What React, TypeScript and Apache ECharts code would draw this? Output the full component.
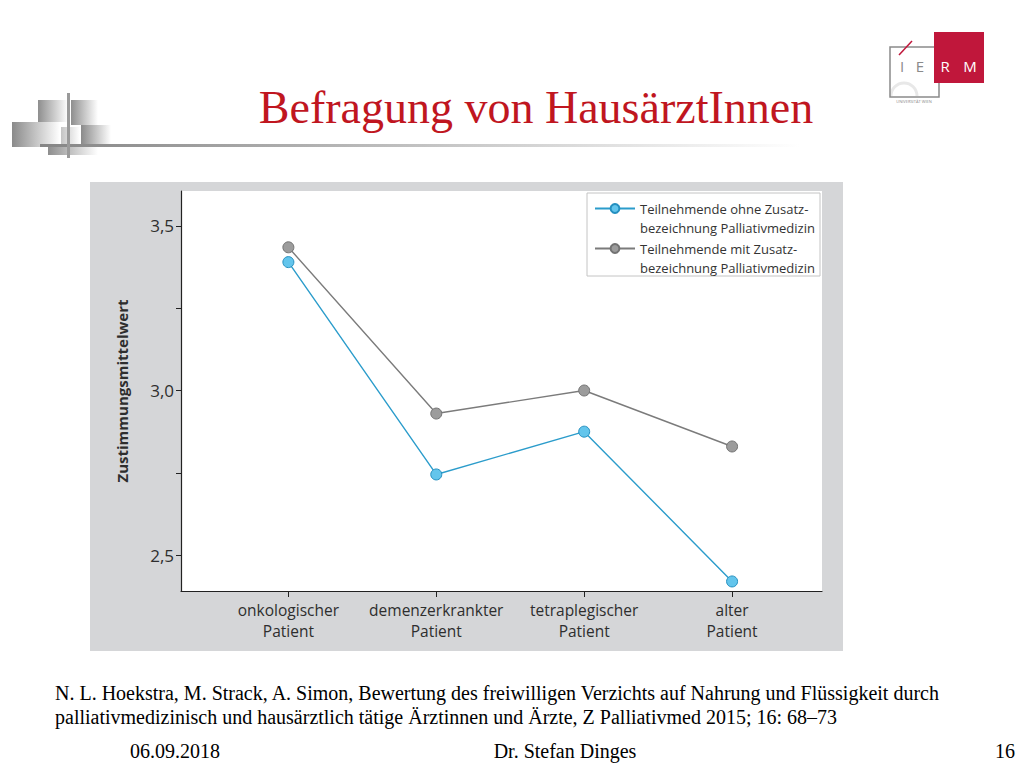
import React, { useEffect, useRef } from 'react';
import * as echarts from 'echarts';

// ---- data ----
const categories = [
  'onkologischer\nPatient',
  'demenzerkrankter\nPatient',
  'tetraplegischer\nPatient',
  'alter\nPatient',
];
const categoryPositions = [0, 1, 2, 3];
const seriesNames = [
  'Teilnehmende ohne Zusatz-\nbezeichnung Palliativmedizin',
  'Teilnehmende mit Zusatz-\nbezeichnung Palliativmedizin',
];
const ohneValues = [3.39, 2.745, 2.875, 2.42];
const mitValues = [3.435, 2.93, 3.0, 2.83];
const yTickValues = [2.5, 2.75, 3.0, 3.25, 3.5];
const yLabelValues = [2.5, 3.0, 3.5];

const titleText = 'Befragung von HausärztInnen';
const citationLines = [
  'N. L. Hoekstra, M. Strack, A. Simon, Bewertung des freiwilligen Verzichts auf Nahrung und Flüssigkeit durch',
  'palliativmedizinisch und hausärztlich tätige Ärztinnen und Ärzte, Z Palliativmed 2015; 16: 68–73',
];
const footerDate = '06.09.2018';
const footerAuthor = 'Dr. Stefan Dinges';
const footerPage = '16';

const SANS = "'Open Sans', 'Noto Sans', sans-serif";
const SERIF = "'Liberation Serif', 'DejaVu Serif', serif";

const grad = (from: string, to: string) => ({
  type: 'linear',
  x: 0,
  y: 0,
  x2: 1,
  y2: 0,
  colorStops: [
    { offset: 0, color: from },
    { offset: 1, color: to },
  ],
});

export default function App() {
  const ref = useRef<HTMLDivElement>(null);

  useEffect(() => {
    if (!ref.current) return;
    const chart = echarts.init(ref.current, undefined, { renderer: 'svg' });

    const decoRects = [
      { x: 38, y: 100, w: 30, h: 22, c: '#8e8e8e' },
      { x: 71, y: 100, w: 27, h: 25, c: '#8e8e8e' },
      { x: 12, y: 122, w: 48, h: 25, c: '#8a8a8a' },
      { x: 61, y: 127, w: 19, h: 18, c: '#c4c4c4' },
      { x: 81, y: 125, w: 30, h: 22, c: '#8a8a8a' },
      { x: 48, y: 147, w: 50, h: 8, c: '#8e8e8e' },
    ];

    const graphic: any[] = [
      // chart panel
      { type: 'rect', z: -100, shape: { x: 90, y: 182, width: 753, height: 469 }, style: { fill: '#d5d6d8' } },
      { type: 'rect', z: -99, shape: { x: 181, y: 191, width: 641, height: 400 }, style: { fill: '#ffffff' } },
      // legend box
      { type: 'rect', z: -98, shape: { x: 587, y: 193, width: 233, height: 83 }, style: { fill: '#ffffff', stroke: '#c4c4c4', lineWidth: 1 } },
      // decoration
      ...decoRects.map((r) => ({
        type: 'rect',
        shape: { x: r.x, y: r.y, width: r.w, height: r.h },
        style: { fill: grad(r.c, '#ffffff') },
      })),
      { type: 'rect', shape: { x: 40, y: 144, width: 760, height: 3 }, style: { fill: grad('#858585', '#ffffff') } },
      { type: 'rect', shape: { x: 67, y: 93, width: 3, height: 65 }, style: { fill: '#9a9a9a' } },
      // title
      {
        type: 'text',
        x: 536,
        y: 107,
        style: {
          text: titleText,
          font: `46px ${SERIF}`,
          fill: '#c0161f',
          align: 'center',
          verticalAlign: 'middle',
        },
      },
      // IERM logo
      { type: 'arc', shape: { cx: 904, cy: 96, r: 13, startAngle: Math.PI, endAngle: Math.PI * 2 }, style: { fill: 'none', stroke: '#e8e8e8', lineWidth: 3 } },
      { type: 'rect', shape: { x: 890, y: 47, width: 49, height: 50 }, style: { fill: 'none', stroke: '#8a8a8a', lineWidth: 1.5 } },
      { type: 'rect', shape: { x: 934, y: 32, width: 50, height: 51 }, style: { fill: '#c0173b' } },
      { type: 'line', shape: { x1: 899, y1: 55, x2: 912, y2: 41 }, style: { stroke: '#c0173b', lineWidth: 1.5 } },
      { type: 'text', x: 902, y: 66, style: { text: 'I', font: `15px ${SANS}`, fill: '#8a8a8a', align: 'center', verticalAlign: 'middle' } },
      { type: 'text', x: 920, y: 66, style: { text: 'E', font: `15px ${SANS}`, fill: '#8a8a8a', align: 'center', verticalAlign: 'middle' } },
      { type: 'text', x: 945, y: 66, style: { text: 'R', font: `15px ${SANS}`, fill: '#ffffff', align: 'center', verticalAlign: 'middle' } },
      { type: 'text', x: 970, y: 66, style: { text: 'M', font: `15px ${SANS}`, fill: '#ffffff', align: 'center', verticalAlign: 'middle' } },
      { type: 'text', x: 914, y: 101, style: { text: 'UNIVERSITÄT WIEN', font: `4px ${SANS}`, fill: '#8a8a8a', align: 'center', verticalAlign: 'middle' } },
      // citation
      ...citationLines.map((t, i) => ({
        type: 'text',
        x: 55,
        y: 693 + i * 24,
        style: { text: t, font: `20px ${SERIF}`, fill: '#000000', align: 'left', verticalAlign: 'middle' },
      })),
      // footer
      { type: 'text', x: 175, y: 751, style: { text: footerDate, font: `20px ${SERIF}`, fill: '#000', align: 'center', verticalAlign: 'middle' } },
      { type: 'text', x: 565, y: 751, style: { text: footerAuthor, font: `20px ${SERIF}`, fill: '#000', align: 'center', verticalAlign: 'middle' } },
      { type: 'text', x: 1015, y: 751, style: { text: footerPage, font: `20px ${SERIF}`, fill: '#000', align: 'right', verticalAlign: 'middle' } },
    ];

    const mkSeries = (name: string, values: number[], line: string, fill: string, border: string) => ({
      type: 'line',
      name,
      data: categoryPositions.map((x, i) => [x, values[i]]),
      symbol: 'circle',
      symbolSize: 11,
      lineStyle: { color: line, width: 1.4 },
      itemStyle: { color: fill, borderColor: border, borderWidth: 1 },
      z: 3,
    });

    chart.setOption({
      animation: false,
      backgroundColor: '#ffffff',
      graphic,
      grid: { left: 181, top: 191, width: 641, height: 400, containLabel: false },
      legend: {
        orient: 'vertical',
        left: 594,
        top: 180,
        padding: 0,
        itemWidth: 40,
        itemHeight: 11,
        itemGap: -17,
        selectedMode: false,
        formatter: (name: string) => '\n' + name,
        textStyle: { fontFamily: SANS, fontSize: 13, lineHeight: 19, color: '#333333' },
        data: seriesNames,
      },
      xAxis: {
        type: 'value',
        min: -0.726,
        max: 3.608,
        axisLine: { show: true, onZero: false, lineStyle: { color: '#222', width: 1.2 } },
        axisTick: { show: true, customValues: categoryPositions, length: 6, lineStyle: { color: '#222' } },
        axisLabel: {
          customValues: categoryPositions,
          formatter: (v: number) => categories[Math.round(v)] ?? '',
          fontFamily: SANS,
          fontSize: 15.5,
          lineHeight: 21,
          color: '#2e2e2e',
          margin: 8,
        },
        splitLine: { show: false },
      },
      yAxis: {
        type: 'value',
        min: 2.391,
        max: 3.606,
        name: 'Zustimmungsmittelwert',
        nameLocation: 'middle',
        nameGap: 52,
        nameTextStyle: { fontFamily: SANS, fontSize: 15, fontWeight: 'bold', color: '#2e2e2e' },
        axisLine: { show: true, onZero: false, lineStyle: { color: '#222', width: 1.2 } },
        axisTick: { show: true, customValues: yTickValues, length: 5, lineStyle: { color: '#222' } },
        axisLabel: {
          customValues: yLabelValues,
          formatter: (v: number) => v.toFixed(1).replace('.', ','),
          fontFamily: SANS,
          fontSize: 17,
          color: '#2e2e2e',
          margin: 7,
        },
        splitLine: { show: false },
      },
      series: [
        mkSeries(seriesNames[0], ohneValues, '#2b9ccb', '#63c5ec', '#2590c0'),
        mkSeries(seriesNames[1], mitValues, '#7b7b7b', '#9c9c9c', '#737373'),
      ],
    });

    return () => chart.dispose();
  }, []);

  return (
    <div
      ref={ref}
      style={{ position: 'fixed', left: 0, top: 0, width: 1024, height: 768, background: '#fff' }}
    />
  );
}
